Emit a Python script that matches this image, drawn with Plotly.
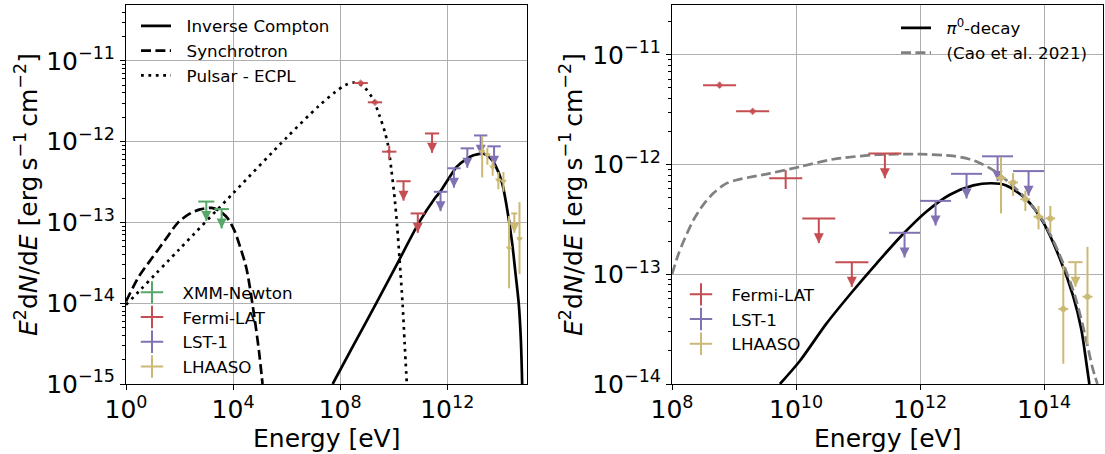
import plotly.graph_objects as go

# ---------------- data ----------------
# XMM-Newton upper limits
xmm_e = [1.0e3, 3.74e3]
xmm_e_lo = [5.0e2, 2.0e3]
xmm_e_hi = [2.0e3, 7.0e3]
xmm_ul = [1.81e-13, 1.46e-13]

# Fermi-LAT detections
fermi_e = [5.85e8, 2.0e9, 6.81e9]
fermi_e_lo = [3.16e8, 1.08e9, 3.69e9]
fermi_e_hi = [1.08e9, 3.69e9, 1.26e10]
fermi_f = [5.3e-12, 3.06e-12, 7.5e-13]
fermi_f_lo = [5.0e-12, 2.9e-12, 6.0e-13]
fermi_f_hi = [5.6e-12, 3.22e-12, 8.9e-13]
fermi_msize = [6, 6, 0]

# Fermi-LAT upper limits
fermi_ul_e = [2.33e10, 7.94e10, 2.71e11]
fermi_ul_e_lo = [1.26e10, 4.3e10, 1.47e11]
fermi_ul_e_hi = [4.3e10, 1.47e11, 5.01e11]
fermi_ul = [3.23e-13, 1.29e-13, 1.26e-12]

# LST-1 upper limits
lst_e = [5.62e11, 1.78e12, 5.62e12, 1.78e13, 5.62e13]
lst_e_lo = [3.16e11, 1.0e12, 3.16e12, 1.0e13, 3.16e13]
lst_e_hi = [1.0e12, 3.16e12, 1.0e13, 3.16e13, 1.0e14]
lst_ul = [2.39e-13, 4.67e-13, 8.24e-13, 1.19e-12, 8.73e-13]

# LHAASO detections
lhaaso_e = [2.02e13, 3.16e13, 4.99e13, 8.13e13, 1.26e14, 2.04e14, 5.01e14]
lhaaso_e_lo = [1.68e13, 2.63e13, 4.15e13, 6.76e13, 1.05e14, 1.70e14, 4.17e14]
lhaaso_e_hi = [2.42e13, 3.80e13, 6.0e13, 9.77e13, 1.51e14, 2.45e14, 6.03e14]
lhaaso_f = [7.53e-13, 6.87e-13, 4.83e-13, 3.35e-13, 3.23e-13, 4.82e-14, 6.25e-14]
lhaaso_f_lo = [3.59e-13, 5.18e-13, 3.78e-13, 2.57e-13, 2.4e-13, 1.53e-14, 2.29e-14]
lhaaso_f_hi = [1.17e-12, 8.37e-13, 5.79e-13, 4.2e-13, 4.2e-13, 1.2e-13, 1.78e-13]

# LHAASO upper limit
lhaaso_ul_e = [3.21e14]
lhaaso_ul_e_lo = [2.45e14]
lhaaso_ul_e_hi = [4.17e14]
lhaaso_ul = [1.29e-13]

# Model curves, left panel
ic_e = [5.25e7, 3.16e8, 2.24e9, 1.41e10, 8.91e10, 3.16e11, 5.5e11, 1.12e12, 2.29e12,
        5.01e12, 9.55e12, 2.29e13, 3.98e13, 6.17e13, 1.1e14, 1.7e14, 2.63e14, 3.47e14,
        4.68e14, 5.62e14, 6.31e14]
ic_f = [1.0e-15, 3.02e-15, 1.0e-14, 3.16e-14, 1.0e-13, 1.91e-13, 2.4e-13, 3.47e-13, 4.9e-13,
        6.03e-13, 6.76e-13, 7.08e-13, 6.31e-13, 5.13e-13, 3.16e-13, 1.51e-13, 5.75e-14, 2.51e-14,
        1.0e-14, 3.55e-15, 1.0e-15]

sync_e = [1.0, 3.16, 10.0, 31.6, 89.1, 251.0, 589.0, 1585.0, 3162.0, 6310.0, 1.12e4,
          1.82e4, 3.16e4, 6.31e4, 9.33e4, 1.26e5]
sync_f = [1.05e-14, 2.19e-14, 3.72e-14, 6.31e-14, 1.0e-13, 1.29e-13, 1.45e-13, 1.51e-13,
          1.38e-13, 1.12e-13, 7.94e-14, 5.01e-14, 2.69e-14, 6.61e-15, 2.51e-15, 1.0e-15]

psr_e = [1.0, 100.0, 1.0e4, 1.0e6, 1.58e7, 6.31e7, 1.58e8, 3.16e8, 7.08e8, 1.66e9, 2.95e9,
         4.57e9, 6.17e9, 8.13e9, 1.1e10, 1.35e10, 1.66e10, 2.14e10, 2.57e10, 3.09e10]
psr_f = [9.55e-15, 4.68e-14, 2.29e-13, 1.12e-12, 2.75e-12, 4.07e-12, 5.01e-12, 5.37e-12,
         4.9e-12, 3.39e-12, 2.09e-12, 1.35e-12, 8.91e-13, 4.57e-13, 1.91e-13, 8.91e-14,
         3.47e-14, 1.0e-14, 3.16e-15, 1.0e-15]

# Model curves, right panel
pi0_e = [5.5e9, 1.15e10, 3.09e10, 8.32e10, 2.0e11, 5.37e11, 1.26e12, 3.02e12, 7.24e12,
         1.41e13, 2.45e13, 5.25e13, 9.55e13, 1.78e14, 2.95e14, 3.98e14, 4.79e14, 5.37e14]
pi0_f = [1.0e-14, 1.62e-14, 3.55e-14, 7.08e-14, 1.26e-13, 2.34e-13, 3.72e-13, 5.31e-13,
         6.46e-13, 6.76e-13, 6.46e-13, 4.79e-13, 3.02e-13, 1.41e-13, 6.31e-14, 3.16e-14,
         1.58e-14, 1.0e-14]

cao_e = [1.0e8, 1.26e8, 1.62e8, 2.24e8, 3.16e8, 4.68e8, 7.08e8, 1.1e9, 2.0e9, 3.8e9,
         1.15e10, 3.98e10, 2.0e11, 1.0e12, 3.39e12, 6.31e12, 9.12e12, 1.51e13, 2.82e13,
         5.25e13, 9.55e13, 1.78e14, 3.16e14, 4.57e14, 6.03e14, 7.24e14]
cao_f = [1.0e-13, 1.51e-13, 2.14e-13, 3.16e-13, 4.27e-13, 5.5e-13, 6.61e-13, 7.24e-13,
         7.76e-13, 8.32e-13, 9.55e-13, 1.12e-12, 1.23e-12, 1.245e-12, 1.2e-12, 1.12e-12,
         1.035e-12, 8.91e-13, 6.76e-13, 4.79e-13, 3.09e-13, 1.51e-13, 6.31e-14, 2.82e-14,
         1.41e-14, 1.0e-14]

# tick labels
left_xticks = [1.0, 1.0e4, 1.0e8, 1.0e12]
left_xlabels = ["10<sup>0</sup>", "10<sup>4</sup>", "10<sup>8</sup>", "10<sup>12</sup>"]
left_yticks = [1e-15, 1e-14, 1e-13, 1e-12, 1e-11]
left_ylabels = ["10<sup>\u221215</sup>", "10<sup>\u221214</sup>", "10<sup>\u221213</sup>",
                "10<sup>\u221212</sup>", "10<sup>\u221211</sup>"]
right_xticks = [1.0e8, 1.0e10, 1.0e12, 1.0e14]
right_xlabels = ["10<sup>8</sup>", "10<sup>10</sup>", "10<sup>12</sup>", "10<sup>14</sup>"]
right_yticks = [1e-14, 1e-13, 1e-12, 1e-11]
right_ylabels = ["10<sup>\u221214</sup>", "10<sup>\u221213</sup>", "10<sup>\u221212</sup>",
                 "10<sup>\u221211</sup>"]

# ---------------- styles ----------------
C_XMM = "#55a868"
C_FERMI = "#c44e52"
C_LST = "#8172b3"
C_LHAASO = "#ccb974"
EW = 2.0
W, H = 1105, 454
GAP = "\u00a0\u00a0"

fig = go.Figure()


def add_points(e, elo, ehi, f, flo, fhi, color, xa, ya, symbol, msize):
    fig.add_trace(go.Scatter(
        x=e, y=f, mode="markers", xaxis=xa, yaxis=ya, showlegend=False,
        marker=dict(symbol=symbol, size=msize, color=color, line=dict(width=0)),
        error_x=dict(type="data", symmetric=False,
                     array=[h - x for x, h in zip(e, ehi)],
                     arrayminus=[x - l for x, l in zip(e, elo)],
                     color=color, thickness=EW, width=0),
        error_y=dict(type="data", symmetric=False,
                     array=[h - y for y, h in zip(f, fhi)],
                     arrayminus=[y - l for y, l in zip(f, flo)],
                     color=color, thickness=EW, width=0),
    ))


def add_uls(e, elo, ehi, ul, color, xa, ya, tipfac):
    tips = [u * tipfac for u in ul]
    fig.add_trace(go.Scatter(
        x=e, y=tips, mode="markers", xaxis=xa, yaxis=ya, showlegend=False,
        marker=dict(symbol="arrow-down", size=10, color=color, line=dict(width=0)),
        error_y=dict(type="data", symmetric=False,
                     array=[u - t for u, t in zip(ul, tips)],
                     arrayminus=[0] * len(ul), color=color, thickness=EW, width=0),
    ))
    fig.add_trace(go.Scatter(
        x=e, y=ul, mode="markers", xaxis=xa, yaxis=ya, showlegend=False,
        marker=dict(size=2, color=color, opacity=0),
        error_x=dict(type="data", symmetric=False,
                     array=[h - x for x, h in zip(e, ehi)],
                     arrayminus=[x - l for x, l in zip(e, elo)],
                     color=color, thickness=EW, width=0),
    ))


def add_legend_cross(name, color, legend):
    fig.add_trace(go.Scatter(
        x=[None], y=[None], mode="markers", name=GAP + name, legend=legend,
        marker=dict(symbol="cross-thin", size=16, color=color,
                    line=dict(width=2, color=color)),
    ))


# ---- left panel curves ----
fig.add_trace(go.Scatter(x=ic_e, y=ic_f, mode="lines", name=GAP + "Inverse Compton",
                         legend="legend", xaxis="x", yaxis="y",
                         line=dict(color="black", width=2.7, shape="spline", smoothing=0.8)))
fig.add_trace(go.Scatter(x=sync_e, y=sync_f, mode="lines", name=GAP + "Synchrotron",
                         legend="legend", xaxis="x", yaxis="y",
                         line=dict(color="black", width=2.7, dash="10px,4.4px",
                                   shape="spline", smoothing=0.8)))
fig.add_trace(go.Scatter(x=psr_e, y=psr_f, mode="lines", name=GAP + "Pulsar - ECPL",
                         legend="legend", xaxis="x", yaxis="y",
                         line=dict(color="black", width=2.7, dash="2.8px,4.6px",
                                   shape="spline", smoothing=0.8)))

# ---- left panel data ----
TL = 10 ** -0.24
add_uls(xmm_e, xmm_e_lo, xmm_e_hi, xmm_ul, C_XMM, "x", "y", TL)
add_points(fermi_e, fermi_e_lo, fermi_e_hi, fermi_f, fermi_f_lo, fermi_f_hi, C_FERMI,
           "x", "y", "diamond", fermi_msize)
add_uls(fermi_ul_e, fermi_ul_e_lo, fermi_ul_e_hi, fermi_ul, C_FERMI, "x", "y", TL)
add_uls(lst_e, lst_e_lo, lst_e_hi, lst_ul, C_LST, "x", "y", TL)
add_points(lhaaso_e, lhaaso_e_lo, lhaaso_e_hi, lhaaso_f, lhaaso_f_lo, lhaaso_f_hi, C_LHAASO,
           "x", "y", "triangle-down", 6)
add_uls(lhaaso_ul_e, lhaaso_ul_e_lo, lhaaso_ul_e_hi, lhaaso_ul, C_LHAASO, "x", "y", TL)

add_legend_cross("XMM-Newton", C_XMM, "legend2")
add_legend_cross("Fermi-LAT", C_FERMI, "legend2")
add_legend_cross("LST-1", C_LST, "legend2")
add_legend_cross("LHAASO", C_LHAASO, "legend2")

# ---- right panel curves ----
fig.add_trace(go.Scatter(x=pi0_e, y=pi0_f, mode="lines",
                         name=GAP + "<i>\u03c0</i><sup>0</sup>-decay",
                         legend="legend3", xaxis="x2", yaxis="y2",
                         line=dict(color="black", width=2.7, shape="spline", smoothing=0.8)))
fig.add_trace(go.Scatter(x=cao_e, y=cao_f, mode="lines", name=GAP + "(Cao et al. 2021)",
                         legend="legend3", xaxis="x2", yaxis="y2",
                         line=dict(color="#808080", width=2.7, dash="10px,4.4px",
                                   shape="spline", smoothing=0.8)))

# ---- right panel data ----
TR = 10 ** -0.225
add_points(fermi_e, fermi_e_lo, fermi_e_hi, fermi_f, fermi_f_lo, fermi_f_hi, C_FERMI,
           "x2", "y2", "diamond", fermi_msize)
add_uls(fermi_ul_e, fermi_ul_e_lo, fermi_ul_e_hi, fermi_ul, C_FERMI, "x2", "y2", TR)
add_uls(lst_e, lst_e_lo, lst_e_hi, lst_ul, C_LST, "x2", "y2", TR)
add_points(lhaaso_e, lhaaso_e_lo, lhaaso_e_hi, lhaaso_f, lhaaso_f_lo, lhaaso_f_hi, C_LHAASO,
           "x2", "y2", "circle", 0)
add_uls(lhaaso_ul_e, lhaaso_ul_e_lo, lhaaso_ul_e_hi, lhaaso_ul, C_LHAASO, "x2", "y2", TR)

add_legend_cross("Fermi-LAT", C_FERMI, "legend4")
add_legend_cross("LST-1", C_LST, "legend4")
add_legend_cross("LHAASO", C_LHAASO, "legend4")


def minor_vals(lo, hi):
    vals = []
    for p in range(lo, hi):
        for k in range(2, 10):
            vals.append(k * 10.0 ** p)
    return vals


def axis_common():
    return dict(type="log", showline=True, mirror=True, linecolor="black", linewidth=1.1,
                ticks="outside", ticklen=5, tickwidth=1.1, tickcolor="black",
                showgrid=True, gridcolor="#b0b0b0", gridwidth=1.1, zeroline=False,
                tickfont=dict(size=25, color="black"), tickmode="array",
                automargin=False)


ydom = [70 / H, 449 / H]
fig.update_layout(
    template="none",
    width=W, height=H, margin=dict(l=0, r=0, t=0, b=0, pad=0, autoexpand=False),
    paper_bgcolor="white", plot_bgcolor="white",
    font=dict(family="DejaVu Sans", size=16.7, color="black"),
    xaxis=dict(**axis_common(), domain=[126 / W, 527 / W], range=[0, 14.98],
               tickvals=left_xticks, ticktext=left_xlabels, anchor="y",
               ticklabelstandoff=-2),
    yaxis=dict(**axis_common(), domain=ydom, range=[-15, -10.31],
               tickvals=left_yticks, ticktext=left_ylabels, anchor="x",
               minor=dict(tickmode="array", tickvals=minor_vals(-15, -10), ticks="outside",
                          ticklen=2.8, tickwidth=1, tickcolor="black", showgrid=False)),
    xaxis2=dict(**axis_common(), domain=[672 / W, 1103 / W], range=[8, 14.95],
                tickvals=right_xticks, ticktext=right_xlabels, anchor="y2",
                ticklabelstandoff=-2),
    yaxis2=dict(**axis_common(), domain=ydom, range=[-14, -10.545],
                tickvals=right_yticks, ticktext=right_ylabels, anchor="x2",
                minor=dict(tickmode="array", tickvals=minor_vals(-14, -10), ticks="outside",
                           ticklen=2.8, tickwidth=1, tickcolor="black", showgrid=False)),
    legend=dict(x=136 / W, y=1 - 8.5 / H, xanchor="left", yanchor="top",
                bgcolor="rgba(0,0,0,0)", font=dict(size=16.7), itemwidth=30,
                tracegroupgap=0),
    legend2=dict(x=132 / W, y=1 - 275 / H, xanchor="left", yanchor="top",
                 bgcolor="rgba(0,0,0,0)", font=dict(size=16.7), itemwidth=30,
                 tracegroupgap=0),
    legend3=dict(x=896 / W, y=1 - 10.5 / H, xanchor="left", yanchor="top",
                 bgcolor="rgba(0,0,0,0)", font=dict(size=16.7), itemwidth=30,
                 tracegroupgap=0),
    legend4=dict(x=681 / W, y=1 - 277 / H, xanchor="left", yanchor="top",
                 bgcolor="rgba(0,0,0,0)", font=dict(size=16.7), itemwidth=30,
                 tracegroupgap=0),
)

ylab = ("<i>E</i><sup>2</sup>d<i>N</i>/d<i>E</i> [erg\u2009s<sup>\u22121</sup>"
        "\u2009cm<sup>\u22122</sup>]")
annots = [
    dict(text="Energy [eV]", x=326.5 / W, y=1 - 438 / H),
    dict(text="Energy [eV]", x=887.5 / W, y=1 - 438 / H),
    dict(text=ylab, x=26 / W, y=1 - 195 / H, textangle=-90),
    dict(text=ylab, x=571 / W, y=1 - 195 / H, textangle=-90),
]
for a in annots:
    fig.add_annotation(xref="paper", yref="paper", showarrow=False, xanchor="center",
                       yanchor="middle", font=dict(size=25, color="black"), **a)

fig.write_html("out.html", config={"displayModeBar": False},
               post_script="document.body.style.margin='0px';"
                           "document.body.style.overflow='hidden';")
